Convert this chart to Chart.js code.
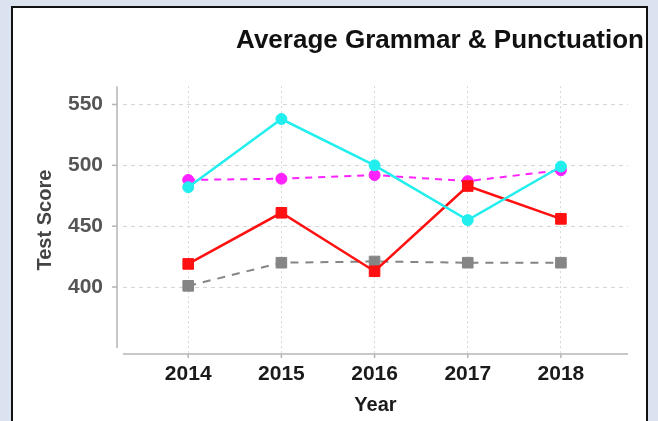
<!DOCTYPE html>
<html>
<head>
<meta charset="utf-8">
<script src="https://cdn.jsdelivr.net/npm/chart.js@4.4.1/dist/chart.umd.min.js"></script>
<style>
  html, body { margin: 0; padding: 0; }
  body { width: 658px; height: 421px; background: #dae3ef; position: relative; overflow: hidden; }
  #panel { position: absolute; left: 11px; top: 6px; width: 633px; height: 430px;
           background: #ffffff; border: 2px solid #111111; border-bottom: none; }
  #c { position: absolute; left: 0; top: 0; }
</style>
</head>
<body>
<div id="panel"></div>
<canvas id="c" width="658" height="421"></canvas>
<script>
// ---- data ----
const years = [2014, 2015, 2016, 2017, 2018];
const seriesCyan    = [482, 538, 500, 455, 499];
const seriesMagenta = [488, 489, 492, 487, 496];
const seriesRed     = [419, 461, 413, 483, 456];
const seriesGray    = [401, 420, 421, 420, 420];
const yTickValues   = [400, 450, 500, 550];
const titleText = 'Average Grammar & Punctuation';
const xTitle = 'Year';
const yTitle = 'Test Score';

const toPoints = vals => years.map((y, i) => ({ x: y, y: vals[i] }));

// decorative offset axis lines and tick marks
const axisLines = {
  id: 'axisLines',
  beforeDatasetsDraw(chart) {
    const { ctx, chartArea: a, scales } = chart;
    ctx.save();
    ctx.strokeStyle = '#b4b4b4';
    ctx.lineWidth = 1.5;
    ctx.setLineDash([]);
    const yx = a.left - 6;
    ctx.beginPath();
    ctx.moveTo(yx, a.top);
    ctx.lineTo(yx, a.bottom - 6);
    ctx.stroke();
    scales.y.ticks.forEach(t => {
      const py = scales.y.getPixelForValue(t.value);
      ctx.beginPath();
      ctx.moveTo(yx - 5, py);
      ctx.lineTo(yx, py);
      ctx.stroke();
    });
    ctx.beginPath();
    ctx.moveTo(a.left, a.bottom);
    ctx.lineTo(a.right, a.bottom);
    ctx.stroke();
    scales.x.ticks.forEach(t => {
      const px = scales.x.getPixelForValue(t.value);
      ctx.beginPath();
      ctx.moveTo(px, a.bottom);
      ctx.lineTo(px, a.bottom + 4);
      ctx.stroke();
    });
    ctx.restore();
  }
};

const font = 'Liberation Sans, Arial, Helvetica, sans-serif';

new Chart(document.getElementById('c'), {
  type: 'line',
  plugins: [axisLines],
  data: {
    datasets: [
      { label: 'Series 1', data: toPoints(seriesCyan), borderColor: '#22eeee', backgroundColor: '#22eeee',
        borderWidth: 2.5, pointStyle: 'circle', pointRadius: 5.5, pointBorderWidth: 1 },
      { label: 'Series 2', data: toPoints(seriesRed), borderColor: '#ff1111', backgroundColor: '#ff1111',
        borderWidth: 2.5, pointStyle: 'rect', pointRadius: 7.5, pointBorderWidth: 1 },
      { label: 'Series 3', data: toPoints(seriesGray), borderColor: '#858585', backgroundColor: '#858585',
        borderWidth: 2, borderDash: [8, 7], pointStyle: 'rect', pointRadius: 7.5, pointBorderWidth: 1 },
      { label: 'Series 4', data: toPoints(seriesMagenta), borderColor: '#ff22ff', backgroundColor: '#ff22ff',
        borderWidth: 2, borderDash: [7, 6], pointStyle: 'circle', pointRadius: 5.5, pointBorderWidth: 1 }
    ]
  },
  options: {
    responsive: false,
    animation: false,
    layout: { padding: { left: 14, right: 14, top: 0, bottom: 0 } },
    plugins: {
      legend: { display: false },
      tooltip: { enabled: false },
      title: {
        display: true, text: titleText, align: 'end', color: '#111111',
        font: { family: font, size: 26, weight: 'bold' },
        padding: { top: 25, bottom: 30 }
      }
    },
    scales: {
      x: {
        type: 'linear', min: 2013.3, max: 2018.72,
        afterBuildTicks: s => { s.ticks = years.map(v => ({ value: v })); },
        afterFit: s => { s.height = 67; },
        ticks: { color: '#1a1a1a', padding: 8, font: { family: font, size: 21, weight: 'bold' },
                 callback: v => String(v), autoSkip: false, maxRotation: 0 },
        grid: { color: '#d6d6d6', lineWidth: 1, drawTicks: false },
        border: { display: false, dash: [2, 3] },
        title: { display: true, text: xTitle, color: '#1a1a1a', padding: { top: 4, bottom: 4 },
                 font: { family: font, size: 20, weight: 'bold' } }
      },
      y: {
        type: 'linear', min: 345, max: 565,
        afterBuildTicks: s => { s.ticks = yTickValues.map(v => ({ value: v })); },
        afterFit: s => { s.width = 109; },
        ticks: { color: '#555555', padding: 20, font: { family: font, size: 21, weight: 'bold' },
                 callback: v => String(v) },
        grid: { color: '#d6d6d6', lineWidth: 1, drawTicks: false },
        border: { display: false, dash: [4, 4] },
        title: { display: true, text: yTitle, color: '#444444', padding: { top: 19, bottom: 4 },
                 font: { family: font, size: 20, weight: 'bold' } }
      },
      yR: {
        type: 'linear', position: 'right', display: true,
        afterFit: s => { s.width = 16; },
        ticks: { display: false },
        grid: { display: false, drawTicks: false },
        border: { display: false }
      }
    }
  }
});
</script>
</body>
</html>
